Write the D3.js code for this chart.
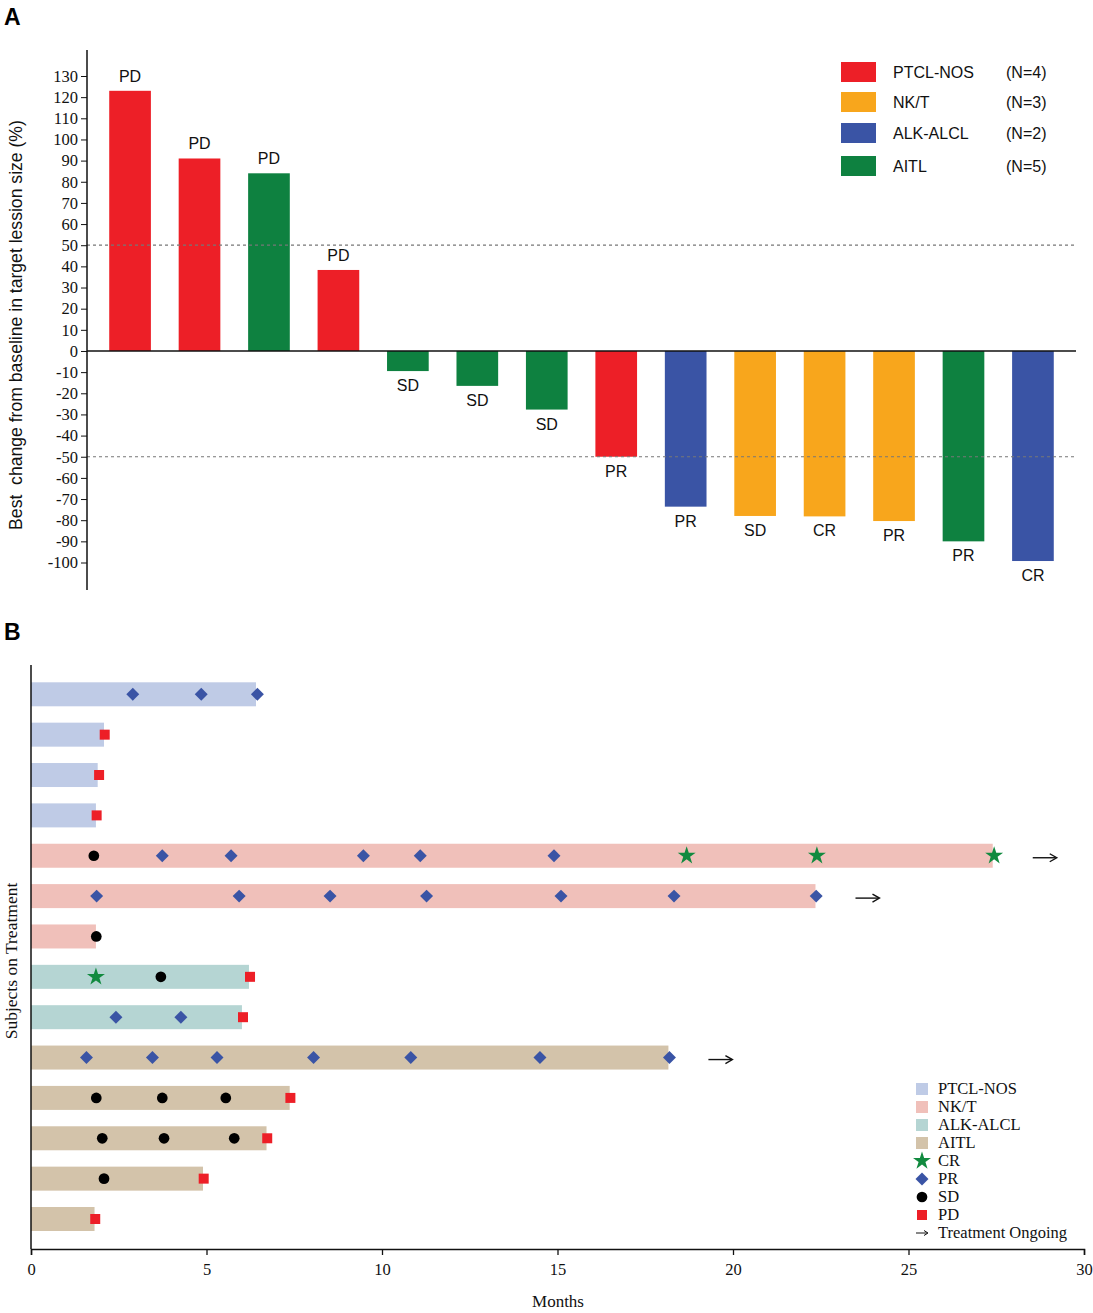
<!DOCTYPE html>
<html>
<head>
<meta charset="utf-8">
<script src="https://cdn.jsdelivr.net/npm/d3@7"></script>
<style>
  body { margin: 0; background: #fff; }
  svg { display: block; }
  .sans { font-family: "Liberation Sans", Arial, sans-serif; }
  .serif { font-family: "Liberation Serif", "Times New Roman", serif; }
</style>
</head>
<body>
<div id="chart"></div>
<script>
// ---- panel A data ----
const patients = d3.range(1, 15).map(String);
const bestChange = [123, 91, 84, 38.3, -9.5, -16.5, -27.7, -50, -73.6, -78, -78.2, -80.4, -90, -99.3];
const subtypes = ['PTCL-NOS', 'PTCL-NOS', 'AITL', 'PTCL-NOS', 'AITL', 'AITL', 'AITL', 'PTCL-NOS',
  'ALK-ALCL', 'NK/T', 'NK/T', 'NK/T', 'AITL', 'ALK-ALCL'];
const responses = ['PD', 'PD', 'PD', 'PD', 'SD', 'SD', 'SD', 'PR', 'PR', 'SD', 'CR', 'PR', 'PR', 'CR'];
const subtypeNames = ['PTCL-NOS', 'NK/T', 'ALK-ALCL', 'AITL'];
const subtypeCounts = ['(N=4)', '(N=3)', '(N=2)', '(N=5)'];
const yTicksA = d3.range(-100, 131, 10);

// ---- panel B data ----
const rowSubtype = ['PTCL-NOS', 'PTCL-NOS', 'PTCL-NOS', 'PTCL-NOS', 'NK/T', 'NK/T', 'NK/T',
  'ALK-ALCL', 'ALK-ALCL', 'AITL', 'AITL', 'AITL', 'AITL', 'AITL'];
const duration = [6.41, 2.08, 1.9, 1.85, 27.4, 22.35, 1.85, 6.21, 6.01, 18.16, 7.37, 6.71, 4.9, 1.81];
const ongoing = [false, false, false, false, true, true, false, false, false, true, false, false, false, false];
const assessments = [
  [[2.9, 'PR'], [4.85, 'PR'], [6.45, 'PR']],
  [[2.1, 'PD']],
  [[1.94, 'PD']],
  [[1.87, 'PD']],
  [[1.79, 'SD'], [3.74, 'PR'], [5.7, 'PR'], [9.47, 'PR'], [11.09, 'PR'], [14.9, 'PR'], [18.68, 'CR'], [22.39, 'CR'], [27.44, 'CR']],
  [[1.87, 'PR'], [5.93, 'PR'], [8.52, 'PR'], [11.27, 'PR'], [15.1, 'PR'], [18.32, 'PR'], [22.37, 'PR']],
  [[1.86, 'SD']],
  [[1.85, 'CR'], [3.7, 'SD'], [6.24, 'PD']],
  [[2.42, 'PR'], [4.27, 'PR'], [6.04, 'PD']],
  [[1.58, 'PR'], [3.46, 'PR'], [5.3, 'PR'], [8.05, 'PR'], [10.82, 'PR'], [14.5, 'PR'], [18.19, 'PR']],
  [[1.86, 'SD'], [3.74, 'SD'], [5.55, 'SD'], [7.39, 'PD']],
  [[2.03, 'SD'], [3.79, 'SD'], [5.79, 'SD'], [6.73, 'PD']],
  [[2.08, 'SD'], [4.92, 'PD']],
  [[1.83, 'PD']],
];
const xTicksB = [0, 5, 10, 15, 20, 25, 30];
const responseTypes = ['CR', 'PR', 'SD', 'PD'];

const barColor = { 'PTCL-NOS': '#ed1f27', 'NK/T': '#f8a61c', 'ALK-ALCL': '#3a54a5', 'AITL': '#0e8140' };
const laneColor = { 'PTCL-NOS': '#bfcbe6', 'NK/T': '#f0c0ba', 'ALK-ALCL': '#b5d5d3', 'AITL': '#d3c3aa' };
const markColor = { CR: '#118a3f', PR: '#3a54a5', SD: '#000', PD: '#ed1f27' };

const W = 1093, H = 1313;
const svg = d3.select('#chart').append('svg').attr('width', W).attr('height', H);

// ================= Panel A =================
const gA = svg.append('g');
gA.append('text').attr('class', 'sans').attr('x', 4).attr('y', 25)
  .attr('font-size', 23).attr('font-weight', 'bold').text('A');

const xA = d3.scaleBand().domain(patients).range([87, 1076]).paddingInner(0.4).paddingOuter(0.32);
const yA = d3.scaleLinear().domain([-100, 130]).range([562.5, 76]);

gA.selectAll('.bar').data(patients).enter().append('rect')
  .attr('class', 'bar')
  .attr('x', d => xA(d))
  .attr('width', xA.bandwidth())
  .attr('y', (d, i) => yA(Math.max(0, bestChange[i])))
  .attr('height', (d, i) => Math.abs(yA(bestChange[i]) - yA(0)))
  .attr('fill', (d, i) => barColor[subtypes[i]]);

gA.selectAll('.resp').data(patients).enter().append('text')
  .attr('class', 'sans')
  .attr('x', d => xA(d) + xA.bandwidth() / 2)
  .attr('y', (d, i) => bestChange[i] >= 0 ? yA(bestChange[i]) - 9 : yA(bestChange[i]) + 20)
  .attr('text-anchor', 'middle').attr('font-size', 16).attr('fill', '#111')
  .text((d, i) => responses[i]);

// reference lines at +/-50
[50, -50].forEach(v => {
  gA.append('line').attr('x1', 87).attr('x2', 1076).attr('y1', yA(v)).attr('y2', yA(v))
    .attr('stroke', '#777').attr('stroke-width', 1.2).attr('stroke-dasharray', '3,3');
});

// zero line
gA.append('line').attr('x1', 87).attr('x2', 1076).attr('y1', yA(0)).attr('y2', yA(0))
  .attr('stroke', '#111').attr('stroke-width', 1.3);

const axA = gA.append('g').attr('transform', 'translate(87,0)')
  .call(d3.axisLeft(yA).tickValues(yTicksA).tickSize(6).tickPadding(3).tickFormat(d => String(d)));
axA.select('.domain').remove();
axA.selectAll('text').attr('class', 'serif').attr('font-size', 16.5).attr('fill', '#111');
axA.selectAll('line').attr('stroke', '#111');
gA.append('line').attr('x1', 87).attr('x2', 87).attr('y1', 50).attr('y2', 590)
  .attr('stroke', '#111').attr('stroke-width', 1.5);

gA.append('text').attr('class', 'sans')
  .attr('transform', 'translate(22,325) rotate(-90)')
  .attr('text-anchor', 'middle').attr('font-size', 17.6).attr('fill', '#111')
  .attr('xml:space', 'preserve')
  .text('Best  change from baseline in target lession size (%)');

// legend A
const legA = gA.append('g').attr('transform', 'translate(841,62)');
subtypeNames.forEach((s, i) => {
  const yy = [0, 30, 61, 94][i];
  legA.append('rect').attr('x', 0).attr('y', yy).attr('width', 35).attr('height', 20).attr('fill', barColor[s]);
  legA.append('text').attr('class', 'sans').attr('x', 52).attr('y', yy + 16)
    .attr('font-size', 16).attr('fill', '#111').text(s);
  legA.append('text').attr('class', 'sans').attr('x', 165).attr('y', yy + 16)
    .attr('font-size', 16).attr('fill', '#111').text(subtypeCounts[i]);
});

// ================= Panel B =================
const gB = svg.append('g');
gB.append('text').attr('class', 'sans').attr('x', 4).attr('y', 640)
  .attr('font-size', 23).attr('font-weight', 'bold').text('B');

const xB = d3.scaleLinear().domain([0, 30]).range([31, 1084]);
const rows = d3.range(14);
const yB = d3.scalePoint().domain(rows).range([694.3, 1219]);
const laneH = 24;

gB.selectAll('.lane').data(rows).enter().append('rect')
  .attr('x', xB(0))
  .attr('y', d => yB(d) - laneH / 2)
  .attr('width', d => xB(duration[d]) - xB(0))
  .attr('height', laneH)
  .attr('fill', d => laneColor[rowSubtype[d]]);

const symbolFor = {
  CR: d3.symbol().type(d3.symbolStar).size(100),
  PR: d3.symbol().type(d3.symbolSquare).size(84),
  SD: d3.symbol().type(d3.symbolCircle).size(90),
  PD: d3.symbol().type(d3.symbolSquare).size(100),
};
const rot = resp => (resp === 'PR' ? ' rotate(45)' : '');
const marks = [];
assessments.forEach((list, r) => list.forEach(([t, resp]) => marks.push({ r, t, resp })));
gB.selectAll('.mark').data(marks).enter().append('path')
  .attr('transform', d => `translate(${xB(d.t)},${yB(d.r)})${rot(d.resp)}`)
  .attr('d', d => symbolFor[d.resp]())
  .attr('fill', d => markColor[d.resp]);

// ongoing arrows
const arrowRows = rows.filter(r => ongoing[r]);
const arrows = gB.selectAll('.arrow').data(arrowRows).enter().append('g')
  .attr('transform', r => `translate(${xB(duration[r]) + 40},${yB(r) + 2})`);
arrows.append('line').attr('x1', 0).attr('x2', 23).attr('y1', 0).attr('y2', 0)
  .attr('stroke', '#111').attr('stroke-width', 1.4);
arrows.append('path').attr('d', 'M17,-4 L24,0 L17,4').attr('fill', 'none')
  .attr('stroke', '#111').attr('stroke-width', 1.4);

// axes B
const axB = gB.append('g').attr('transform', 'translate(0,1249)')
  .call(d3.axisBottom(xB).tickValues(xTicksB).tickSize(6).tickPadding(8).tickFormat(d => String(d)));
axB.select('.domain').attr('stroke', '#111').attr('stroke-width', 1.5);
axB.selectAll('line').attr('stroke', '#111').attr('stroke-width', 1.3);
axB.selectAll('text').attr('class', 'serif').attr('font-size', 16.5).attr('fill', '#111');
gB.append('line').attr('x1', 31).attr('x2', 31).attr('y1', 665).attr('y2', 1249)
  .attr('stroke', '#111').attr('stroke-width', 1.5);

gB.append('text').attr('class', 'serif').attr('x', 558).attr('y', 1307)
  .attr('text-anchor', 'middle').attr('font-size', 17).attr('fill', '#111').text('Months');
gB.append('text').attr('class', 'serif')
  .attr('transform', 'translate(17,961) rotate(-90)')
  .attr('text-anchor', 'middle').attr('font-size', 17.5).attr('fill', '#111').text('Subjects on Treatment');

// legend B
const legB = gB.append('g').attr('transform', 'translate(922,1089)');
const legItems = subtypeNames.map(s => ({ label: s, kind: 'lane' }))
  .concat(responseTypes.map(r => ({ label: r, kind: 'mark' })))
  .concat([{ label: 'Treatment Ongoing', kind: 'arrow' }]);
legItems.forEach((it, i) => {
  const yy = i * 18;
  if (it.kind === 'lane') {
    legB.append('rect').attr('x', -6).attr('y', yy - 6).attr('width', 12).attr('height', 12)
      .attr('fill', laneColor[it.label]);
  } else if (it.kind === 'mark') {
    legB.append('path').attr('transform', `translate(0,${yy})${rot(it.label)}`)
      .attr('d', symbolFor[it.label]()).attr('fill', markColor[it.label]);
  } else {
    legB.append('line').attr('x1', -6).attr('x2', 5).attr('y1', yy).attr('y2', yy)
      .attr('stroke', '#111').attr('stroke-width', 1);
    legB.append('path').attr('d', `M2,${yy - 2.5} L6,${yy} L2,${yy + 2.5}`).attr('fill', 'none')
      .attr('stroke', '#111').attr('stroke-width', 1);
  }
  legB.append('text').attr('class', 'serif').attr('x', 16).attr('y', yy + 5)
    .attr('font-size', 16.5).attr('fill', '#111').text(it.label);
});
</script>
</body>
</html>
